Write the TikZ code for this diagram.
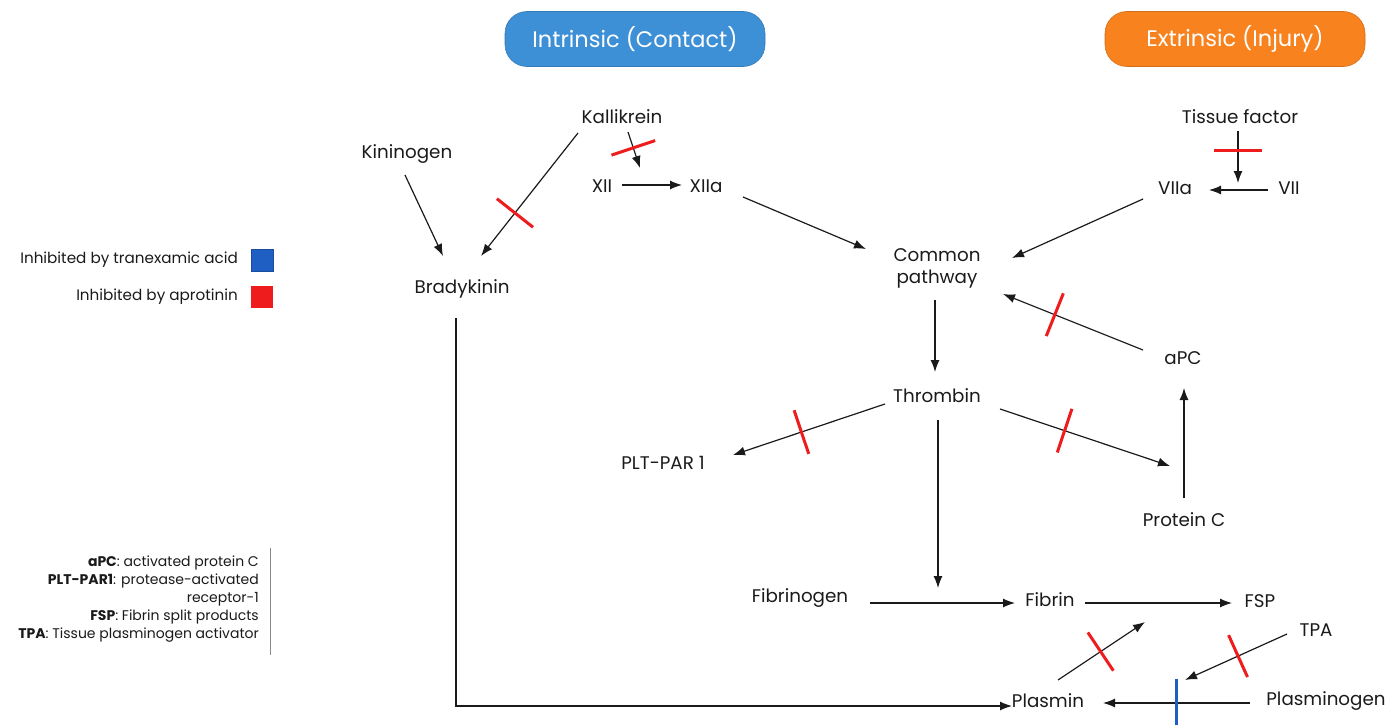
\documentclass[tikz,border=0pt]{standalone}
\usepackage{fontspec}
\setmainfont{Poppins}
\usetikzlibrary{arrows.meta,calc}
\definecolor{txt}{HTML}{1A1A1A}
\definecolor{redc}{HTML}{EE1C1C}
\definecolor{bluec}{HTML}{1F5FC4}
\definecolor{hblue}{HTML}{3D8FD6}
\definecolor{horange}{HTML}{F7821E}
\definecolor{legline}{HTML}{8A8A8A}
\begin{document}
\begin{tikzpicture}[x=1pt,y=-1pt,
  lbl/.style={text=txt, font=\fontsize{18.3}{22}\selectfont, inner sep=1pt, align=center},
  hdr/.style={rounded corners=22pt, minimum width=260pt, minimum height=55pt, text=white, font=\fontsize{22.5}{26}\selectfont},
  arr/.style={draw=txt, line width=1.2pt, -{Latex[length=12pt,width=9pt]}},
  rbar/.style={sloped, fill=redc, minimum width=3pt, minimum height=46pt, inner sep=0pt, draw=none},
  bbar/.style={sloped, fill=bluec, minimum width=3pt, minimum height=48pt, inner sep=0pt, draw=none},
  leg/.style={text=txt, font=\fontsize{15.2}{18}\selectfont, inner sep=0pt},
  sq/.style={minimum width=22pt, minimum height=22pt, inner sep=0pt}
]
\useasboundingbox (0,0) rectangle (1400,725);

% headers
\node[hdr, fill=hblue, draw=hblue!85!black, line width=0.6pt] (intr) at (635,39) {Intrinsic (Contact)};
\node[hdr, fill=horange, draw=horange!85!black, line width=0.6pt] (extr) at (1235,39) {Extrinsic (Injury)};

% legend
\node[leg, anchor=east] (l1) at (238,260) {Inhibited by tranexamic acid};
\node[sq, fill=bluec, draw=bluec!80!black, line width=0.5pt] (s1) at (262,260) {};
\node[leg, anchor=east] (l2) at (238,297) {Inhibited by aprotinin};
\node[sq, fill=redc] (s2) at (262,297) {};

\node[leg, anchor=north east, align=right, font=\fontsize{14}{18}\selectfont] (defs) at (259,556)
 {\textbf{aPC}: activated protein C\\
  \textbf{PLT-PAR1}: protease-activated\\
  receptor-1\\
  \textbf{FSP}: Fibrin split products\\
  \textbf{TPA}: Tissue plasminogen activator};
\coordinate (g1) at (270,548);
\coordinate (g2) at (270,655);
\draw[legline, line width=1pt] (g1) -- (g2);

% nodes
\node[lbl] (kal) at (622,117) {Kallikrein};
\node[lbl] (kin) at (407,154) {Kininogen};
\node[lbl] (xii) at (602,186) {XII};
\node[lbl] (xiia) at (706,186) {XIIa};
\node[lbl] (tf) at (1240,117) {Tissue factor};
\node[lbl] (viia) at (1175,188) {VIIa};
\node[lbl] (vii) at (1289,188) {VII};
\node[lbl] (brady) at (462,289) {Bradykinin};
\node[lbl] (common) at (937,268) {Common\\pathway};
\node[lbl] (thr) at (937,396) {Thrombin};
\node[lbl] (apc) at (1183,358) {aPC};
\node[lbl] (plt) at (663,463) {PLT-PAR 1};
\node[lbl] (protc) at (1184,520) {Protein C};
\node[lbl] (fgen) at (800,598) {Fibrinogen};
\node[lbl] (fib) at (1050,600) {Fibrin};
\node[lbl] (fsp) at (1260,601) {FSP};
\node[lbl] (tpa) at (1316,630) {TPA};
\node[lbl] (plasmin) at (1048,701) {Plasmin};
\node[lbl] (plgen) at (1326,701) {Plasminogen};

% connectors
\draw[arr] ($(kin)+(-2,21)$) -- ($(brady)+(-19,-33)$);
\draw[arr] ($(kal)+(-44,16)$) -- ($(brady)+(19,-33)$) node[rbar, pos=0.65] {};
\draw[arr] ($(kal)+(6,15)$) -- ($(xii)+(38,-18)$) node[rbar, pos=0.44] {};
\draw[arr] ($(xii)+(20,-1)$) -- ($(xiia)+(-24,-1)$);
\draw[arr] ($(xiia)+(37,11)$) -- ($(common)+(-71,-19)$);
\draw[arr] ($(tf)+(-2,14)$) -- ($(vii)+(-51,-5)$) node[rbar, pos=0.38, minimum height=48pt] {};
\draw[arr] ($(vii)+(-21,2)$) -- ($(viia)+(34,2)$);
\draw[arr] ($(viia)+(-32,11)$) -- ($(common)+(75,-10)$);
\draw[arr] ($(apc)+(-40,-8)$) -- ($(common)+(66,26)$) node[rbar, pos=0.63] {};
\draw[arr] ($(common)+(-2,32)$) -- ($(thr)+(-2,-24)$);
\draw[arr] ($(thr)+(-52,8)$) -- ($(plt)+(70,-8)$) node[rbar, pos=0.55] {};
\draw[arr] ($(thr)+(63,13)$) -- ($(protc)+(-14,-54)$) node[rbar, pos=0.38] {};
\draw[arr] ($(protc)+(0,-22)$) -- ($(apc)+(1,30)$);
\draw[arr] ($(thr)+(1,24)$) -- ($(thr)+(1,192)$);
\draw[arr] ($(fgen)+(70,5)$) -- ($(fib)+(-35,3)$);
\draw[arr] ($(fib)+(35,3)$) -- ($(fsp)+(-28,2)$);
\draw[arr] ($(plasmin)+(10,-21)$) -- ($(fib)+(95,22)$) node[rbar, pos=0.49] {};
\draw[arr] ($(tpa)+(-29,4)$) -- ($(plasmin)+(137,-21)$) node[rbar, pos=0.48] {};
\draw[arr] ($(plgen)+(-76,2)$) -- ($(plasmin)+(55,2)$) node[bbar, pos=0.5] {};
\draw[arr] ($(brady)+(-6,29)$) |- ($(plasmin)+(-36,5)$);

\end{tikzpicture}
\end{document}
